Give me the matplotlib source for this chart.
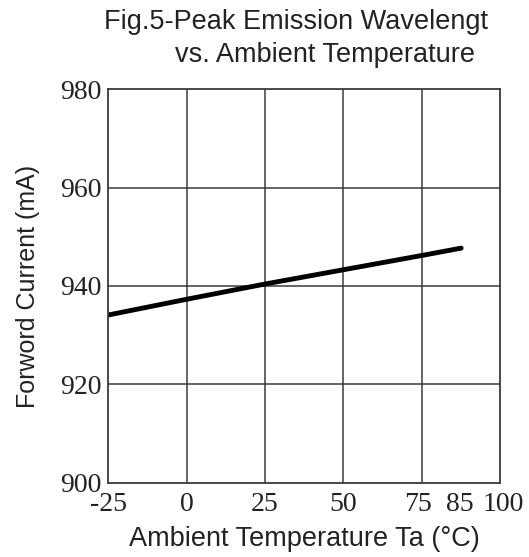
import matplotlib.pyplot as plt
from matplotlib.transforms import ScaledTranslation

plt.rcParams['axes.unicode_minus'] = False

# data
temps = [-25, 0, 25, 50, 75, 87.6]
current = [934.1, 937.3, 940.4, 943.3, 946.2, 947.7]

x_ticks = [-25, 0, 25, 50, 75, 85, 100]
y_ticks = [900, 920, 940, 960, 980]
grid_x = [0, 25, 50, 75]

fig = plt.figure(figsize=(5.29, 5.57), dpi=100)
ax = fig.add_axes([0.2047, 0.1334, 0.7405, 0.7063])

ax.plot(temps, current, color='black', linewidth=3.5, solid_capstyle='round')

for gx in grid_x:
    ax.axvline(gx, color='#3a3a3a', linewidth=1.1, zorder=0)
for gy in y_ticks[1:-1]:
    ax.axhline(gy, color='#3a3a3a', linewidth=1.1, zorder=0)

ax.set_xlim(-25, 100)
ax.set_ylim(900, 980)
ax.set_xticks(x_ticks)
ax.set_yticks(y_ticks)
ax.tick_params(axis='x', length=0, pad=7)
ax.tick_params(axis='y', length=0, pad=5)
for lab in ax.get_xticklabels() + ax.get_yticklabels():
    lab.set_family('Liberation Serif')
    lab.set_fontsize(20)
    lab.set_color('#222222')
for lab in ax.get_yticklabels():
    lab.set_va('center_baseline')

# the last labels are nudged in the original, replicate that spacing
nudge = {4: -4, 5: 7, 6: 3}
xlabs = ax.get_xticklabels()
for i, px in nudge.items():
    xlabs[i].set_transform(xlabs[i].get_transform()
                           + ScaledTranslation(px / 100, 0, fig.dpi_scale_trans))

for s in ax.spines.values():
    s.set_color('#3a3a3a')
    s.set_linewidth(1.3)

ax.set_xlabel('Ambient Temperature Ta (°C)', family='Liberation Sans',
              fontsize=19.5, color='#222222', labelpad=6)
ax.set_ylabel('Forword Current (mA)', family='Liberation Sans',
              fontsize=18, color='#222222', labelpad=14)

fig.text(0.56, 0.948, 'Fig.5-Peak Emission Wavelengt', ha='center',
         family='Liberation Sans', fontsize=19.5, color='#222222')
fig.text(0.615, 0.888, 'vs. Ambient Temperature', ha='center',
         family='Liberation Sans', fontsize=19.5, color='#222222')

fig.savefig('out.png', dpi=100)
